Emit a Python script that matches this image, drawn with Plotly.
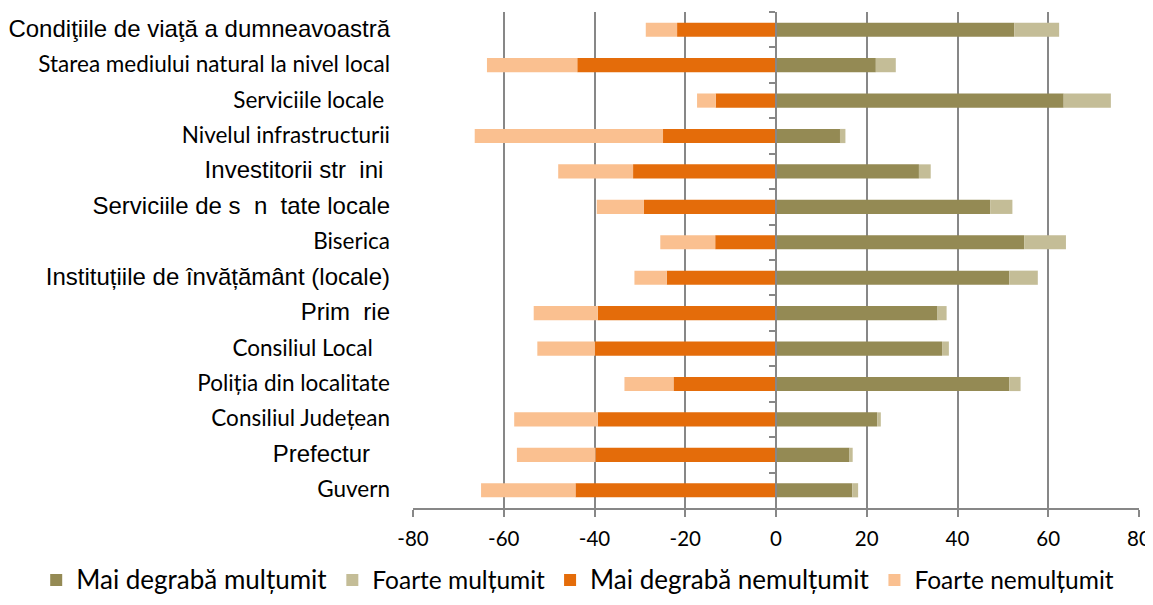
import plotly.graph_objects as go

categories = [
    "Condiţiile de viaţă a dumneavoastră",
    "Starea mediului natural la nivel local",
    "Serviciile locale",
    "Nivelul infrastructurii",
    "Investitorii str  ini",
    "Serviciile de s  n  tate locale",
    "Biserica",
    "Instituțiile de învățământ (locale)",
    "Prim  rie",
    "Consiliul Local",
    "Poliția din localitate",
    "Consiliul Județean",
    "Prefectur",
    "Guvern",
]
# which labels use the Arial-like face (True) vs Calibri-like (False)
arial_label = [True, False, False, False, True, True, False, True, True, False, False, False, True, False]
label_text = [
    "Condiţiile de viaţă a dumneavoastră",
    "Starea mediului natural la nivel local",
    "Serviciile locale\u00a0",
    "Nivelul infrastructurii",
    "Investitorii str\u00a0\u00a0ini\u00a0",
    "Serviciile de s\u00a0\u00a0n\u00a0\u00a0tate locale",
    "Biserica",
    "Instituțiile de învățământ (locale)",
    "Prim\u00a0\u00a0rie",
    "Consiliul Local\u00a0\u00a0\u00a0",
    "Poliția din localitate",
    "Consiliul Județean",
    "Prefectur\u00a0\u00a0\u00a0",
    "Guvern",
]

mai_multumit = [52.5, 22.0, 63.4, 14.1, 31.5, 47.2, 54.7, 51.4, 35.6, 36.6, 51.4, 22.3, 16.2, 16.8]
foarte_multumit = [9.9, 4.4, 10.4, 1.2, 2.6, 4.9, 9.2, 6.3, 2.0, 1.5, 2.5, 0.8, 0.7, 1.3]
mai_nemultumit = [-21.8, -43.8, -13.3, -24.9, -31.5, -29.1, -13.4, -24.1, -39.3, -39.9, -22.6, -39.3, -39.8, -44.2]
foarte_nemultumit = [-6.9, -19.9, -4.1, -41.5, -16.5, -10.4, -12.1, -7.1, -14.1, -12.7, -10.8, -18.4, -17.3, -20.8]

x_ticks = [-80, -60, -40, -20, 0, 20, 40, 60, 80]

ARIAL = "Liberation Sans, Arial, sans-serif"
CALIBRI = "Lato, Carlito, Calibri, sans-serif"

ticktext = []
for t, a in zip(label_text, arial_label):
    if a:
        ticktext.append(f'<span style="font-family:{ARIAL};font-size:24px">{t}</span>')
    else:
        ticktext.append(f'<span style="font-family:{CALIBRI};font-size:22.5px">{t}</span>')

series = [
    ("Mai degrabă mulțumit", mai_multumit, "#948A54", "y2", 26),
    ("Foarte mulțumit", foarte_multumit, "#C4BD97", "y2", 24.5),
    ("Mai degrabă nemulțumit", mai_nemultumit, "#E46C0A", "y", 26),
    ("Foarte nemulțumit", foarte_nemultumit, "#FAC090", "y", 24.5),
]

fig = go.Figure()
for name, vals, color, yax, fs in series:
    fig.add_trace(go.Bar(
        y=categories, x=vals, orientation="h", yaxis=yax,
        name=f'<span style="font-size:{fs}px">{name}</span>',
        marker=dict(color=color, line=dict(width=0)),
        hoverinfo="x+y",
    ))

GRID = "#878787"
# page body adds an 8px margin all round, so the figure is sized to fit inside it
fig.update_layout(
    width=1145, height=589,
    barmode="relative", bargap=0.6,
    plot_bgcolor="white", paper_bgcolor="white",
    margin=dict(l=405, r=14, t=4, b=89, autoexpand=False),
    font=dict(family=CALIBRI, size=20, color="black"),
    xaxis=dict(
        range=[-80, 80], tickvals=x_ticks, ticktext=[str(v) for v in x_ticks],
        showgrid=True, gridcolor=GRID, gridwidth=1.8,
        zeroline=False, showline=True, linecolor=GRID, linewidth=1.8,
        ticks="outside", ticklen=7, tickcolor=GRID, tickwidth=1.8,
        tickfont=dict(family=CALIBRI, size=20.5, color="black"),
        ticklabelstandoff=4, automargin=False,
    ),
    yaxis=dict(
        type="category", categoryorder="array", categoryarray=categories,
        autorange="reversed",
        tickmode="array", tickvals=categories, ticktext=ticktext,
        showgrid=False, showline=False, ticks="", ticklabelstandoff=22,
        zeroline=False, automargin=False,
    ),
    yaxis2=dict(
        type="category", categoryorder="array", categoryarray=categories,
        matches="y", overlaying="y", anchor="free", position=0.5, side="left",
        showticklabels=False, showgrid=False, zeroline=False,
        showline=True, linecolor=GRID, linewidth=1.8,
        ticks="outside", ticklen=6, tickcolor=GRID, tickwidth=1.8,
        tickson="boundaries", automargin=False,
    ),
    legend=dict(
        orientation="h", x=-0.519, xanchor="left", y=-0.1915, yanchor="bottom",
        font=dict(family=CALIBRI, size=24, color="black"),
        itemwidth=30, traceorder="normal",
    ),
)

fig.write_html("out.html")
